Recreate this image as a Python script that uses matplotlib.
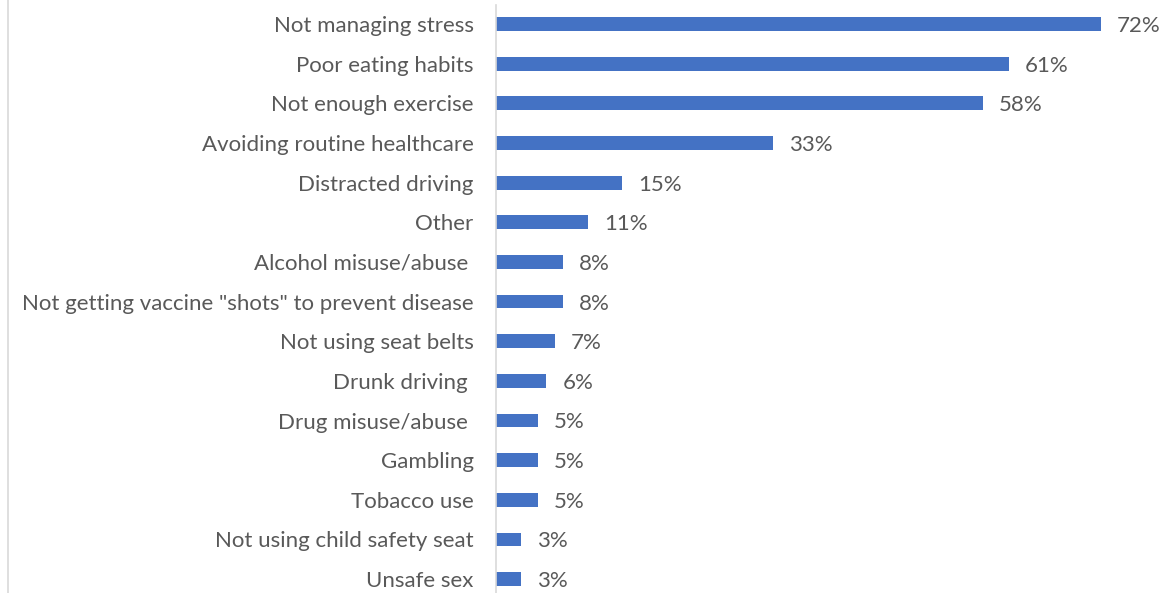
import matplotlib.pyplot as plt
from matplotlib.lines import Line2D

categories = [
    "Not managing stress",
    "Poor eating habits",
    "Not enough exercise",
    "Avoiding routine healthcare",
    "Distracted driving",
    "Other",
    "Alcohol misuse/abuse ",
    'Not getting vaccine "shots" to prevent disease',
    "Not using seat belts",
    "Drunk driving ",
    "Drug misuse/abuse ",
    "Gambling",
    "Tobacco use",
    "Not using child safety seat",
    "Unsafe sex",
]
values = [72, 61, 58, 33, 15, 11, 8, 8, 7, 6, 5, 5, 5, 3, 3]

BAR = "#4472C4"
TEXT = "#595959"
GRID = "#D9D9D9"

plt.rcParams["font.family"] = ["Lato", "DejaVu Sans"]

fig = plt.figure(figsize=(11.64, 5.93), dpi=100)
ax = fig.add_axes([0.426, 0.0, 0.574, 1.0])

ypos = list(range(len(categories)))
ax.barh(ypos, values, height=0.35, color=BAR)
for y, v in zip(ypos, values):
    ax.text(v + 1.9, y + 0.05, f"{v}%", va="center", ha="left", fontsize=16, color=TEXT)

ax.set_xlim(0, 79.5)
ax.set_ylim(14.35, -0.605)
ax.set_yticks(ypos)
ax.set_yticklabels(categories, fontsize=16, color=TEXT)
for lbl in ax.get_yticklabels():
    lbl.set_va("center_baseline")
ax.tick_params(axis="y", length=0, pad=16)
ax.set_xticks([])

for side in ["top", "right", "bottom"]:
    ax.spines[side].set_visible(False)
ax.spines["left"].set_color(GRID)
ax.spines["left"].set_linewidth(1.2)
ax.spines["left"].set_bounds(14.35, -0.48)

# thin frame edge on the far left
fig.add_artist(Line2D([0.0065, 0.0065], [0, 1], transform=fig.transFigure,
                      color=GRID, linewidth=1.2))

fig.savefig("out.png", dpi=100)
